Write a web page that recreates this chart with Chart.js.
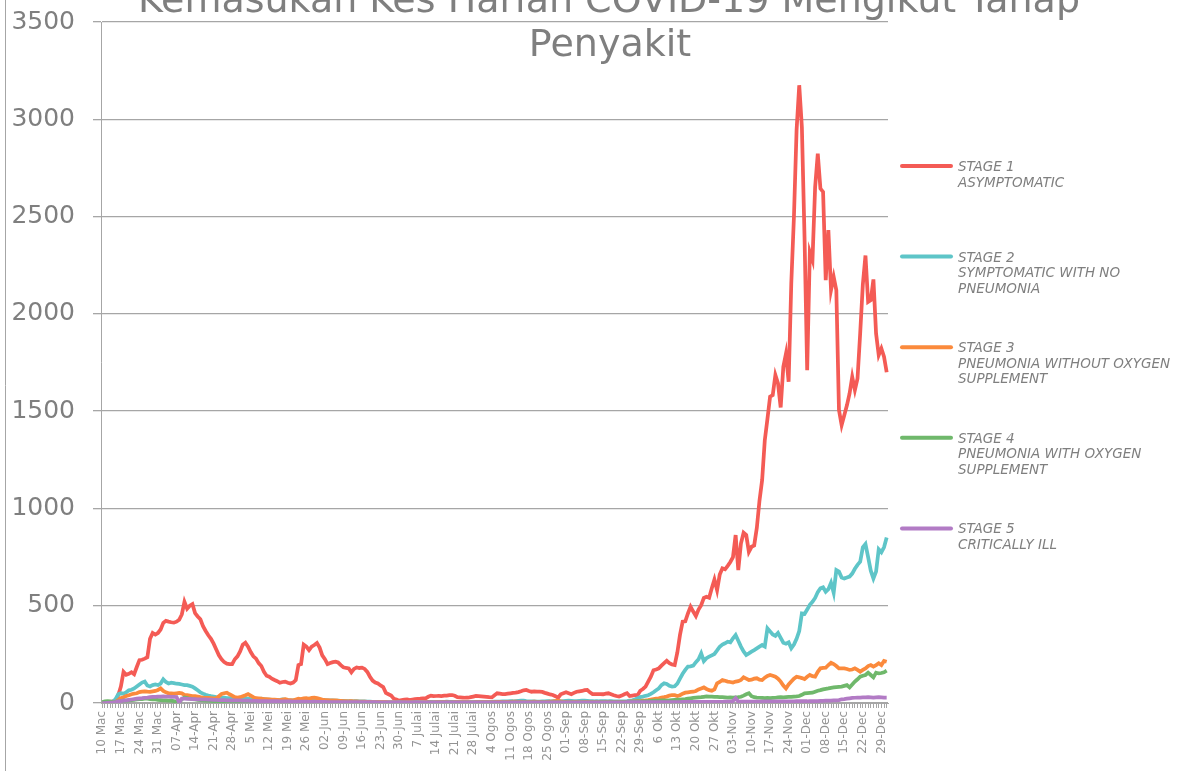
<!DOCTYPE html>
<html>
<head>
<meta charset="utf-8">
<title>Kemasukan Kes Harian COVID-19</title>
<script src="https://cdn.jsdelivr.net/npm/chart.js@4.4.1/dist/chart.umd.min.js"></script>
<style>
  body { margin: 0; background: #fff; }
  #wrap { position: relative; width: 1177px; height: 771px; }
</style>
</head>
<body>
<div id="wrap"><canvas id="covidChart"></canvas></div>
<script>
// Title and legend text
const titleLines = ['Kemasukan Kes Harian COVID-19 Mengikut Tahap', 'Penyakit'];
const stageLabels = [
    ['STAGE 1', 'ASYMPTOMATIC'],
    ['STAGE 2', 'SYMPTOMATIC WITH NO', 'PNEUMONIA'],
    ['STAGE 3', 'PNEUMONIA WITHOUT OXYGEN', 'SUPPLEMENT'],
    ['STAGE 4', 'PNEUMONIA WITH OXYGEN', 'SUPPLEMENT'],
    ['STAGE 5', 'CRITICALLY ILL']
];
const stageColors = ['#f45b55', '#5ec5c8', '#fb8a3c', '#6fb86b', '#b27bc5'];

// One label every 7 days, starting 10 Mac
const tickLabels = ['10 Mac', '17 Mac', '24 Mac', '31 Mac', '07-Apr', '14-Apr', '21-Apr', '28-Apr',
    '5 Mei', '12 Mei', '19 Mei', '26 Mei', '02-Jun', '09-Jun', '16-Jun', '23-Jun', '30-Jun',
    '7 Julai', '14 Julai', '21 Julai', '28 Julai', '4 Ogos', '11 Ogos', '18 Ogos', '25 Ogos',
    '01-Sep', '08-Sep', '15-Sep', '22-Sep', '29-Sep', '6 Okt', '13 Okt', '20 Okt', '27 Okt',
    '03-Nov', '10-Nov', '17-Nov', '24-Nov', '01-Dec', '08-Dec', '15-Dec', '22-Dec', '29-Dec'];

// Daily categories, 10 Mar 2020 .. 31 Dec 2020
const days = [];
for (let d = new Date(2020, 2, 10); d <= new Date(2020, 11, 31); d.setDate(d.getDate() + 1)) {
    days.push(d.getDate() + '/' + (d.getMonth() + 1));
}

const stage1 = [
    0, 2, 3, 5, 8, 15, 40, 85, 160, 145,
    150, 158, 148, 185, 220, 222, 228, 235, 330, 360,
    352, 360, 378, 412, 422, 418, 415, 413, 418, 428,
    455, 520, 485, 500, 508, 462, 445, 430, 395, 370,
    348, 330, 305, 275, 245, 225, 210, 202, 200, 200,
    225, 240, 265, 300, 310, 290, 262, 240, 228, 205,
    190, 160, 140, 135, 125, 118, 112, 104, 108, 110,
    104, 100, 105, 118, 195, 200, 300, 290, 272, 290,
    298, 308, 285, 245, 225, 200, 205, 210, 212, 208,
    195, 183, 180, 178, 158, 175, 183, 180, 182, 175,
    160, 135, 115, 105, 100, 90, 82, 52, 45, 38,
    22, 18, 12, 15, 18, 19, 15, 18, 20, 21,
    22, 24, 24, 32, 38, 35, 36, 37, 36, 38,
    38, 40, 41, 37, 30, 29, 28, 27, 27, 30,
    33, 36, 35, 34, 33, 32, 30, 29, 40, 50,
    48, 46, 46, 48, 50, 52, 53, 56, 60, 65,
    67, 62, 58, 60, 58, 58, 57, 52, 48, 44,
    41, 35, 27, 45, 50, 55, 50, 45, 52, 58,
    60, 62, 66, 67, 55, 46, 46, 46, 46, 45,
    48, 50, 45, 40, 36, 33, 38, 45, 50, 36,
    38, 40, 40, 63, 72, 84, 110, 135, 168, 172,
    178, 192, 205, 217, 205, 198, 195, 260, 350, 418,
    420, 460, 495, 470, 447, 480, 503, 540, 546, 541,
    590, 635, 580, 660, 692, 687, 705, 725, 750, 863,
    683, 820, 875, 863, 777, 803, 810, 900, 1040, 1146,
    1350, 1460, 1574, 1582, 1685, 1642, 1519, 1728, 1796, 1651,
    2156, 2498, 2944, 3175, 2960, 2395, 1711, 2318, 2276, 2652,
    2824, 2644, 2627, 2173, 2430, 2122, 2190, 2122, 1505, 1428,
    1479, 1530, 1591, 1676, 1608, 1668, 1900, 2150, 2300, 2061,
    2070, 2177, 1899, 1788, 1822, 1780, 1700
];
const stage2 = [
    0, 2, 3, 5, 6, 20, 45, 50, 48, 55,
    65, 68, 75, 85, 95, 105, 110, 90, 85, 92,
    95, 92, 100, 122, 108, 100, 104, 102, 99, 98,
    95, 92, 92, 88, 84, 75, 65, 55, 48, 42,
    38, 35, 33, 30, 28, 26, 27, 25, 25, 24,
    24, 22, 20, 22, 24, 22, 20, 19, 18, 20,
    22, 20, 18, 17, 16, 15, 15, 16, 18, 17,
    15, 14, 14, 13, 15, 16, 18, 20, 22, 20,
    18, 17, 16, 15, 15, 14, 13, 13, 12, 12,
    11, 11, 10, 10, 10, 9, 9, 8, 8, 8,
    7, 7, 6, 6, 6, 5, 5, 5, 5, 4,
    4, 4, 4, 3, 3, 3, 3, 4, 4, 4,
    5, 5, 5, 6, 6, 5, 5, 6, 6, 6,
    7, 6, 6, 5, 5, 5, 4, 4, 5, 5,
    5, 6, 6, 5, 5, 5, 6, 6, 7, 7,
    7, 8, 8, 8, 9, 9, 10, 11, 12, 12,
    10, 9, 8, 8, 7, 7, 8, 8, 9, 9,
    10, 10, 9, 9, 10, 11, 12, 11, 10, 10,
    11, 12, 12, 11, 10, 10, 9, 9, 10, 10,
    10, 9, 9, 8, 8, 8, 8, 9, 10, 12,
    14, 18, 25, 30, 33, 37, 40, 47, 55, 65,
    75, 92, 101, 98, 88, 84, 86, 100, 125, 150,
    170, 187, 188, 192, 210, 225, 255, 215, 230, 238,
    245, 252, 270, 289, 300, 307, 315, 312, 332, 349,
    320, 290, 265, 247, 255, 264, 272, 281, 290, 298,
    290, 384, 368, 352, 345, 360, 335, 310, 305, 312,
    281, 300, 330, 370, 460, 458, 480, 505, 520, 540,
    570, 590, 595, 572, 585, 618, 567, 683, 675, 645,
    640, 645, 650, 665, 690, 710, 726, 800, 817, 750,
    680, 640, 675, 790, 775, 800, 850
];
const stage3 = [
    0, 0, 2, 2, 3, 5, 15, 25, 30, 36,
    40, 45, 48, 50, 56, 58, 60, 58, 57, 60,
    62, 67, 75, 62, 55, 50, 50, 48, 50, 52,
    50, 42, 40, 38, 36, 35, 33, 30, 28, 27,
    26, 25, 24, 24, 35, 46, 50, 53, 45, 38,
    30, 28, 30, 35, 40, 46, 38, 30, 25, 24,
    22, 20, 20, 19, 18, 17, 16, 15, 18, 20,
    16, 15, 14, 18, 22, 20, 24, 25, 22, 26,
    28, 25, 22, 18, 16, 15, 14, 13, 14, 12,
    11, 10, 10, 9, 9, 8, 8, 7, 7, 7,
    6, 6, 5, 5, 5, 4, 4, 4, 3, 3,
    3, 3, 2, 2, 2, 3, 3, 3, 2, 2,
    3, 3, 4, 4, 3, 3, 4, 4, 5, 4,
    4, 3, 3, 4, 4, 5, 5, 4, 4, 3,
    3, 4, 4, 5, 5, 4, 4, 5, 5, 6,
    6, 5, 5, 6, 6, 7, 7, 6, 6, 5,
    5, 6, 6, 7, 6, 6, 5, 5, 6, 7,
    8, 10, 12, 8, 6, 6, 5, 5, 6, 6,
    5, 5, 6, 6, 5, 5, 4, 5, 5, 5,
    6, 6, 5, 5, 5, 6, 5, 5, 6, 7,
    8, 8, 10, 10, 12, 13, 15, 18, 20, 22,
    24, 28, 30, 33, 38, 41, 40, 36, 40, 48,
    53, 55, 57, 58, 62, 70, 75, 80, 72, 66,
    63, 70, 101, 108, 118, 114, 110, 108, 105, 110,
    112, 118, 132, 125, 118, 120, 125, 127, 120, 118,
    130, 139, 144, 140, 135, 125, 110, 90, 75, 95,
    110, 125, 135, 132, 128, 123, 135, 144, 138, 135,
    160, 178, 180, 181, 195, 207, 200, 190, 178, 178,
    178, 175, 170, 172, 178, 170, 161, 170, 178, 190,
    195, 187, 195, 204, 195, 216, 212
];
const stage4 = [
    5, 8, 10, 8, 5, 6, 8, 10, 12, 12,
    14, 15, 16, 18, 20, 20, 22, 22, 20, 18,
    18, 16, 15, 14, 14, 12, 12, 10, 8, 2,
    20, 28, 25, 22, 20, 18, 16, 15, 14, 12,
    12, 11, 10, 10, 9, 9, 8, 8, 8, 7,
    7, 7, 6, 6, 6, 6, 5, 5, 5, 5,
    5, 5, 4, 4, 4, 4, 4, 4, 4, 4,
    4, 3, 3, 3, 3, 4, 4, 4, 4, 3,
    3, 3, 3, 3, 3, 3, 2, 2, 2, 2,
    2, 2, 2, 2, 2, 2, 2, 2, 2, 1,
    1, 1, 1, 1, 1, 1, 1, 1, 1, 1,
    1, 1, 1, 1, 1, 1, 1, 1, 1, 1,
    1, 1, 1, 2, 2, 2, 2, 2, 2, 2,
    2, 2, 2, 2, 2, 2, 2, 2, 2, 2,
    2, 2, 2, 2, 2, 2, 2, 2, 2, 2,
    2, 2, 2, 2, 3, 3, 3, 3, 3, 3,
    3, 3, 3, 3, 3, 3, 3, 3, 3, 3,
    3, 3, 3, 3, 3, 3, 3, 3, 3, 3,
    3, 3, 3, 3, 3, 3, 3, 3, 4, 4,
    4, 4, 4, 4, 4, 4, 5, 5, 6, 6,
    7, 7, 8, 8, 9, 10, 10, 11, 12, 12,
    12, 13, 13, 12, 14, 15, 16, 17, 18, 19,
    20, 22, 24, 26, 28, 29, 30, 32, 34, 33,
    33, 32, 31, 30, 30, 29, 28, 29, 28, 29,
    30, 32, 38, 45, 50, 35, 30, 28, 27, 26,
    25, 26, 25, 26, 27, 29, 30, 29, 30, 31,
    32, 33, 34, 36, 42, 50, 51, 52, 53, 58,
    63, 66, 70, 73, 75, 78, 80, 82, 83, 84,
    88, 92, 80, 95, 110, 122, 135, 140, 144, 156,
    144, 132, 156, 152, 154, 158, 166
];
const stage5 = [
    0, 0, 1, 2, 3, 5, 8, 10, 12, 14,
    16, 18, 20, 22, 24, 25, 27, 28, 30, 31,
    32, 33, 33, 34, 33, 33, 32, 32, 31, 2,
    22, 22, 21, 21, 20, 20, 19, 19, 18, 18,
    17, 17, 16, 16, 15, 15, 15, 14, 14, 14,
    13, 13, 13, 12, 12, 12, 11, 11, 11, 10,
    10, 10, 10, 9, 9, 9, 9, 8, 8, 8,
    8, 8, 7, 7, 7, 7, 7, 7, 6, 6,
    6, 6, 6, 6, 6, 5, 5, 5, 5, 5,
    5, 5, 5, 5, 4, 4, 4, 4, 4, 4,
    4, 4, 4, 4, 3, 3, 3, 3, 3, 3,
    3, 3, 3, 3, 3, 3, 3, 3, 3, 3,
    3, 3, 3, 3, 3, 3, 3, 3, 3, 3,
    3, 3, 3, 3, 3, 3, 3, 3, 3, 3,
    3, 3, 3, 3, 3, 3, 3, 3, 3, 3,
    3, 3, 3, 3, 3, 3, 3, 3, 3, 3,
    3, 3, 3, 3, 3, 3, 3, 3, 3, 3,
    3, 3, 3, 3, 3, 3, 3, 3, 3, 3,
    3, 3, 3, 3, 3, 3, 3, 3, 3, 3,
    3, 3, 3, 3, 3, 3, 3, 3, 4, 4,
    4, 4, 4, 4, 4, 4, 4, 4, 5, 5,
    5, 5, 5, 5, 5, 5, 5, 5, 5, 6,
    6, 6, 6, 6, 6, 6, 6, 6, 6, 6,
    6, 6, 6, 6, 6, 7, 7, 7, 10, 25,
    8, 7, 7, 7, 7, 7, 7, 7, 7, 8,
    8, 8, 8, 8, 8, 8, 8, 8, 8, 8,
    8, 8, 9, 9, 9, 9, 9, 10, 10, 10,
    10, 11, 11, 12, 12, 12, 13, 14, 15, 19,
    20, 22, 24, 26, 27, 28, 28, 29, 29, 30,
    29, 28, 29, 30, 29, 28, 28
];
const stageSeries = [stage1, stage2, stage3, stage4, stage5];

// Title, legend and outer border drawn on top of the chart
const overlay = {
    id: 'overlay',
    afterDraw: function(chart) {
        const ctx = chart.ctx;
        ctx.save();

        ctx.strokeStyle = '#a6a6a6';
        ctx.lineWidth = 1;
        ctx.beginPath();
        ctx.moveTo(5.5, 0);
        ctx.lineTo(5.5, 771);
        ctx.stroke();

        ctx.fillStyle = '#7f7f7f';
        ctx.font = '38px "DejaVu Sans"';
        ctx.textAlign = 'center';
        ctx.textBaseline = 'alphabetic';
        ctx.fillText(titleLines[0], 609, 12);
        ctx.fillText(titleLines[1], 610, 56);

        ctx.textAlign = 'left';
        ctx.font = 'italic 13.5px "DejaVu Sans"';
        stageLabels.forEach(function(lines, i) {
            const y = 166 + i * 90.6;
            ctx.strokeStyle = stageColors[i];
            ctx.lineWidth = 4;
            ctx.lineCap = 'round';
            ctx.beginPath();
            ctx.moveTo(902, y);
            ctx.lineTo(951, y);
            ctx.stroke();
            ctx.fillStyle = '#7f7f7f';
            lines.forEach(function(t, j) {
                ctx.fillText(t, 958, y + 5 + j * 15.6);
            });
        });
        ctx.restore();
    }
};

const datasets = stageSeries.map(function(values, i) {
    return {
        label: stageLabels[i].join(' '),
        data: values,
        borderColor: stageColors[i],
        backgroundColor: stageColors[i],
        borderWidth: 3.75,
        pointRadius: 0,
        tension: 0,
        order: 5 - i
    };
});

new Chart(document.getElementById('covidChart'), {
    type: 'line',
    data: { labels: days, datasets: datasets },
    options: {
        responsive: true,
        maintainAspectRatio: false,
        animation: false,
        layout: { padding: { top: 22, right: 289, left: 0, bottom: 0 } },
        plugins: {
            legend: { display: false },
            title: { display: false },
            tooltip: { enabled: false }
        },
        scales: {
            x: {
                offset: true,
                grid: { drawOnChartArea: false, drawTicks: true, tickLength: 5, color: '#a6a6a6' },
                border: { display: true, color: '#a6a6a6' },
                ticks: {
                    autoSkip: false,
                    minRotation: 90,
                    maxRotation: 90,
                    padding: 3,
                    color: '#939393',
                    font: { family: 'DejaVu Sans', size: 12 },
                    callback: function(value, index) {
                        return index % 7 === 0 ? tickLabels[index / 7] : '';
                    }
                },
                afterFit: function(scale) { scale.height = 68; }
            },
            y: {
                min: 0,
                max: 3500,
                ticks: {
                    stepSize: 500,
                    padding: 18,
                    color: '#7f7f7f',
                    font: { family: 'DejaVu Sans', size: 25 },
                    callback: function(value) { return String(value); }
                },
                grid: { color: '#a6a6a6', lineWidth: 1.3, tickLength: 8 },
                border: { display: true, color: '#a6a6a6' },
                afterFit: function(scale) {
                    scale.width = 101;
                    scale.paddingTop = 0;
                    scale.paddingBottom = 0;
                }
            }
        }
    },
    plugins: [overlay]
});
</script>
</body>
</html>
